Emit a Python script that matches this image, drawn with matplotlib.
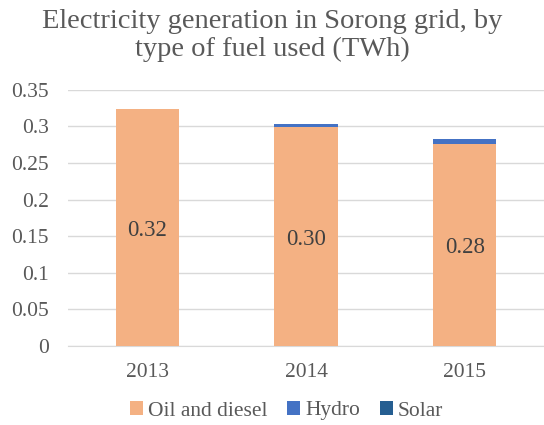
import matplotlib.pyplot as plt
import numpy as np

years = ["2013", "2014", "2015"]
oil_diesel = [0.324, 0.299, 0.276]
hydro = [0.0, 0.004, 0.006]
solar = [0.0, 0.0003, 0.0003]
series_names = ["Oil and diesel", "Hydro", "Solar"]
colors = ["#F4B183", "#4472C4", "#255E91"]

plt.rcParams["font.family"] = ["Liberation Serif", "DejaVu Serif"]

fig = plt.figure(figsize=(5.44, 4.25), dpi=100)
ax = fig.add_axes([0.125, 0.186, 0.875, 0.603])

x = np.arange(len(years))
bottom = np.zeros(len(years))
for vals, name, col in zip([oil_diesel, hydro, solar], series_names, colors):
    ax.bar(x, vals, width=0.4, bottom=bottom, color=col, label=name, zorder=3)
    bottom += np.array(vals)

# value labels inside the oil and diesel bars
for xi, v in zip(x, oil_diesel):
    ax.text(xi, v / 2 - 0.004, f"{v:.2f}", ha="center", va="center", fontsize=16.5, color="#404040", zorder=4)

ax.set_xlim(-0.5, 2.5)
ax.set_ylim(0, 0.35)
ax.set_yticks(np.arange(0, 0.351, 0.05))
ax.set_yticklabels(["0", "0.05", "0.1", "0.15", "0.2", "0.25", "0.3", "0.35"])
ax.set_xticks(x)
ax.set_xticklabels(years)
ax.tick_params(length=0, labelsize=15.5, colors="#595959", pad=12)
ax.tick_params(axis="y", pad=14)
ax.grid(axis="y", color="#d9d9d9", linewidth=1, zorder=0)
for s in ["top", "right", "left"]:
    ax.spines[s].set_visible(False)
ax.spines["bottom"].set_color("#d9d9d9")

fig.text(0.5, 0.98, "Electricity generation in Sorong grid, by\ntype of fuel used (TWh)",
         ha="center", va="top", fontsize=20.5, color="#595959", linespacing=1.2)

fig.legend(loc="lower center", bbox_to_anchor=(0.527, -0.035), ncol=3, frameon=False,
           fontsize=15.5, handlelength=0.6, handleheight=0.6, handletextpad=0.25,
           columnspacing=0.9, labelcolor="#595959")

fig.savefig("out.png", dpi=100)
